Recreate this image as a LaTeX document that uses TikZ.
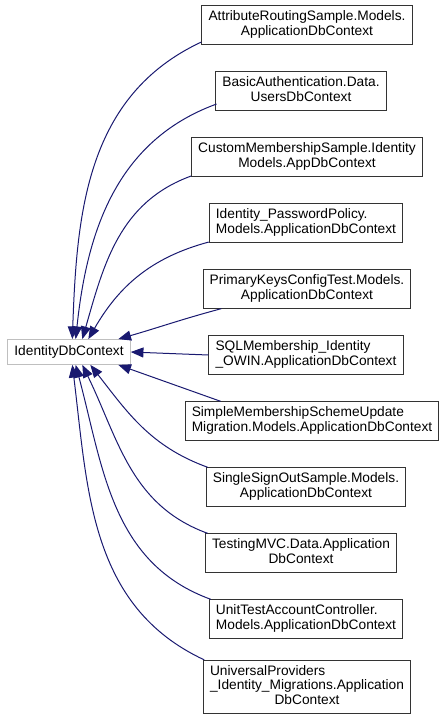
\documentclass[tikz,border=0pt]{standalone}
\usepackage{fontspec}
\setmainfont{Liberation Sans}
\usetikzlibrary{arrows.meta}

\definecolor{edgeblue}{HTML}{191970}

% class name: wrapped lines left, last line centred
\newcommand{\cname}[2]{\begin{tabular}{@{}l@{}}#1\\\multicolumn{1}{@{}c@{}}{#2}\end{tabular}}

\tikzset{
  cls/.style={draw=black!80, fill=white, line width=0.75pt, inner xsep=5pt, inner ysep=3.2pt,
    font=\fontsize{10.3}{11.2}\selectfont},
  basecls/.style={cls, draw=black!25, inner ysep=4.5pt},
  inh/.style={draw=edgeblue, line width=0.75pt, {Triangle[length=9.5pt,width=7.5pt,fill=edgeblue]}-}
}

\begin{document}
\begin{tikzpicture}[x=0.75pt,y=-0.75pt]

\useasboundingbox (0,0) rectangle (439,721);

% ===== Basisklasse =====
\node[basecls] (idc) at (69,352) {IdentityDbContext};

% ===== Abgeleitete Klassen =====
\node[cls] (c1) at (307,25) {\cname{AttributeRoutingSample.Models.}{ApplicationDbContext}};
\node[cls] (c2) at (301,91) {\cname{BasicAuthentication.Data.}{UsersDbContext}};
\node[cls] (c3) at (307,157) {\cname{CustomMembershipSample.Identity}{Models.AppDbContext}};
\node[cls] (c4) at (306,223) {\cname{Identity\_PasswordPolicy.}{Models.ApplicationDbContext}};
\node[cls] (c5) at (307,289) {\cname{PrimaryKeysConfigTest.Models.}{ApplicationDbContext}};
\node[cls] (c6) at (306,355) {\cname{SQLMembership\_Identity}{\_OWIN.ApplicationDbContext}};
\node[cls] (c7) at (312,421) {\cname{SimpleMembershipSchemeUpdate}{Migration.Models.ApplicationDbContext}};
\node[cls] (c8) at (306,487) {\cname{SingleSignOutSample.Models.}{ApplicationDbContext}};
\node[cls] (c9) at (301,553) {\cname{TestingMVC.Data.Application}{DbContext}};
\node[cls] (c10) at (306,619) {\cname{UnitTestAccountController.}{Models.ApplicationDbContext}};
\node[cls] (c11) at (307,687) {\cname{UniversalProviders\\\_Identity\_Migrations.Application}{DbContext}};

% ===== Vererbung (oben) =====
\draw[inh] ([xshift=2.5pt]idc.north) to[out=88,in=205] ([yshift=2pt]c1.south west);
\draw[inh] ([xshift=5pt]idc.north) to[out=84,in=200] ([xshift=1pt,yshift=5pt]c2.south west);
\draw[inh] ([xshift=10pt]idc.north) to[out=74,in=200] ([yshift=0.5pt]c3.south west);
\draw[inh] ([xshift=14.5pt]idc.north) to[out=60,in=195] ([yshift=0.5pt]c4.south west);
\draw[inh] ([xshift=37pt]idc.north) to[out=16,in=195] ([xshift=14pt]c5.south west);

% ===== Vererbung (Mitte) =====
\draw[inh] (idc.east) -- (c6.west);
\draw[inh] ([xshift=37pt]idc.south) -- ([xshift=27pt]c7.north west);

% ===== Vererbung (unten) =====
\draw[inh] ([xshift=16pt]idc.south) to[out=-52,in=160] ([xshift=1.5pt]c8.north west);
\draw[inh] ([xshift=10pt]idc.south) to[out=-64,in=160] ([xshift=2pt]c9.north west);
\draw[inh] ([xshift=5pt]idc.south) to[out=-75,in=160] ([xshift=1.5pt]c10.north west);
\draw[inh] ([xshift=2.5pt]idc.south) to[out=-83,in=155] ([xshift=1pt]c11.north west);

\end{tikzpicture}
\end{document}
